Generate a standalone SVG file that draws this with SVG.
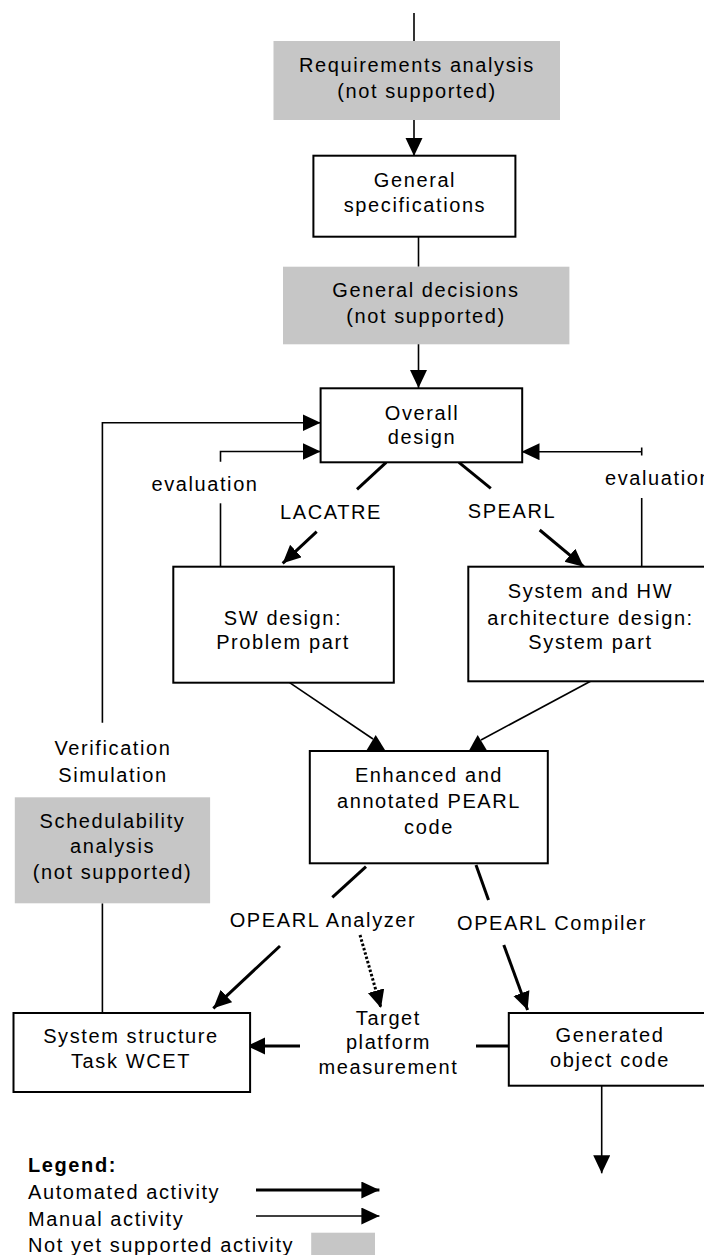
<svg xmlns="http://www.w3.org/2000/svg" width="704" height="1255" viewBox="0 0 704 1255">
<style>
.t{font-family:"Liberation Sans",Arial,sans-serif;font-size:20px;letter-spacing:1.6px;fill:#000;text-anchor:middle}
.l{text-anchor:start}
.b{font-weight:bold}
.box{fill:#fff;stroke:#000;stroke-width:2}
.gray{fill:#c6c6c6;stroke:none}
.thin{fill:none;stroke:#000;stroke-width:1.6}
.thick{fill:none;stroke:#000;stroke-width:3}
.dot{fill:none;stroke:#000;stroke-width:3;stroke-dasharray:2.5 2}
</style>
<defs>
<marker id="ah" markerUnits="userSpaceOnUse" markerWidth="19" markerHeight="18" refX="18" refY="8.5" orient="auto">
<path d="M0,0 L18,8.5 L0,17 z" fill="#000"/>
</marker>
</defs>
<rect width="704" height="1255" fill="#fff"/>

<g id="connectors">
<line class="thin" x1="414" y1="13" x2="414" y2="41"/>
<line class="thin" x1="414" y1="120" x2="414" y2="156" marker-end="url(#ah)"/>
<line class="thin" x1="418.5" y1="237" x2="418.5" y2="266.7"/>
<line class="thin" x1="418.5" y1="344" x2="418.5" y2="388" marker-end="url(#ah)"/>
<polyline class="thin" points="102.4,722.7 102.4,422.7 320.6,422.7" marker-end="url(#ah)"/>
<polyline class="thin" points="220.5,461.7 220.5,451.5 320.6,451.5" marker-end="url(#ah)"/>
<line class="thin" x1="220.5" y1="503.3" x2="220.5" y2="567"/>
<line class="thin" x1="641.7" y1="451.7" x2="521.5" y2="451.7" marker-end="url(#ah)"/>
<line class="thin" x1="641.7" y1="447.5" x2="641.7" y2="455.5"/>
<line class="thin" x1="641.7" y1="498" x2="641.7" y2="566.7"/>
<line class="thick" x1="386.2" y1="462.3" x2="357" y2="489.3"/>
<line class="thick" x1="316.7" y1="531.7" x2="282.7" y2="563.3" marker-end="url(#ah)"/>
<line class="thick" x1="458.9" y1="462.3" x2="490.8" y2="488.3"/>
<line class="thick" x1="539.7" y1="530" x2="583.7" y2="566.7" marker-end="url(#ah)"/>
<line class="thin" x1="289.6" y1="682.7" x2="373" y2="739"/>
<polygon points="366.7,750 385,750 375.7,735" fill="#000"/>
<line class="thin" x1="590.5" y1="681.3" x2="481" y2="740"/>
<polygon points="469.3,750 486.7,750 477.7,735" fill="#000"/>
<line class="thin" x1="102.4" y1="903.3" x2="102.4" y2="1013"/>
<line class="thick" x1="366" y1="866.7" x2="332.3" y2="897.3"/>
<line class="thick" x1="280" y1="946" x2="213.3" y2="1008.3" marker-end="url(#ah)"/>
<line class="dot" x1="360" y1="935" x2="381" y2="1008" marker-end="url(#ah)"/>
<line class="thick" x1="476" y1="865" x2="488.5" y2="900"/>
<line class="thick" x1="503.8" y1="945" x2="527.6" y2="1010" marker-end="url(#ah)"/>
<line class="thick" x1="300" y1="1046" x2="247" y2="1046" marker-end="url(#ah)"/>
<line class="thick" x1="476" y1="1046" x2="508.8" y2="1046"/>
<line class="thin" x1="601.7" y1="1085.7" x2="601.7" y2="1173.3" marker-end="url(#ah)"/>
</g>

<g id="req">
<rect class="gray" x="273.5" y="41" width="286.5" height="79"/>
<text class="t" x="417" y="71.5">Requirements analysis</text>
<text class="t" x="417" y="97.5">(not supported)</text>
</g>
<g id="genspec">
<rect class="box" x="313.4" y="155.7" width="202" height="81"/>
<text class="t" x="415" y="186.5">General</text>
<text class="t" x="415" y="211.5">specifications</text>
</g>
<g id="gendec">
<rect class="gray" x="283" y="266.7" width="286.4" height="77.6"/>
<text class="t" x="426" y="296.5">General decisions</text>
<text class="t" x="426" y="323">(not supported)</text>
</g>
<g id="overall">
<rect class="box" x="320.6" y="388.3" width="201.6" height="74"/>
<text class="t" x="422" y="420">Overall</text>
<text class="t" x="422" y="444">design</text>
</g>
<g id="labels">
<text class="t" x="205" y="491">evaluation</text>
<text class="t l" x="605" y="485">evaluation</text>
<text class="t" x="331" y="519">LACATRE</text>
<text class="t" x="512" y="518">SPEARL</text>
<text class="t" x="113" y="755">Verification</text>
<text class="t" x="113" y="781.5">Simulation</text>
<text class="t" x="323" y="926.5">OPEARL Analyzer</text>
<text class="t" x="552" y="930">OPEARL Compiler</text>
</g>
<g id="swdesign">
<rect class="box" x="173.3" y="566.7" width="220.5" height="116"/>
<text class="t" x="283" y="625">SW design:</text>
<text class="t" x="283" y="649">Problem part</text>
</g>
<g id="sysdesign">
<rect class="box" x="468.3" y="566.7" width="245" height="114.6"/>
<text class="t" x="590.5" y="597.5">System and HW</text>
<text class="t" x="590.5" y="625">architecture design:</text>
<text class="t" x="590.5" y="649">System part</text>
</g>
<g id="enhanced">
<rect class="box" x="309.8" y="751" width="238" height="112.3"/>
<text class="t" x="429" y="781.5">Enhanced and</text>
<text class="t" x="429" y="808">annotated PEARL</text>
<text class="t" x="429" y="833.5">code</text>
</g>
<g id="sched">
<rect class="gray" x="14.8" y="797.3" width="195.3" height="106"/>
<text class="t" x="112.5" y="828">Schedulability</text>
<text class="t" x="112.5" y="853">analysis</text>
<text class="t" x="112.5" y="879">(not supported)</text>
</g>
<g id="sysstruct">
<rect class="box" x="13.5" y="1013" width="236.6" height="79"/>
<text class="t" x="131" y="1043">System structure</text>
<text class="t" x="131" y="1068">Task WCET</text>
</g>
<g id="target">
<text class="t" x="388.4" y="1025">Target</text>
<text class="t" x="388.4" y="1049">platform</text>
<text class="t" x="388.4" y="1073.5">measurement</text>
</g>
<g id="generated">
<rect class="box" x="508.8" y="1013" width="200" height="72.7"/>
<text class="t" x="610" y="1041.5">Generated</text>
<text class="t" x="610" y="1066.5">object code</text>
</g>
<g id="legend">
<text class="t l b" x="28" y="1171.5">Legend:</text>
<text class="t l" x="28" y="1199">Automated activity</text>
<text class="t l" x="28" y="1226">Manual activity</text>
<text class="t l" x="28" y="1251.5">Not yet supported activity</text>
<line class="thick" x1="256" y1="1190" x2="379.4" y2="1190" marker-end="url(#ah)"/>
<line class="thin" x1="256" y1="1216" x2="379.4" y2="1216" marker-end="url(#ah)"/>
<rect class="gray" x="311.2" y="1232.7" width="63.8" height="22.3"/>
</g>
</svg>
